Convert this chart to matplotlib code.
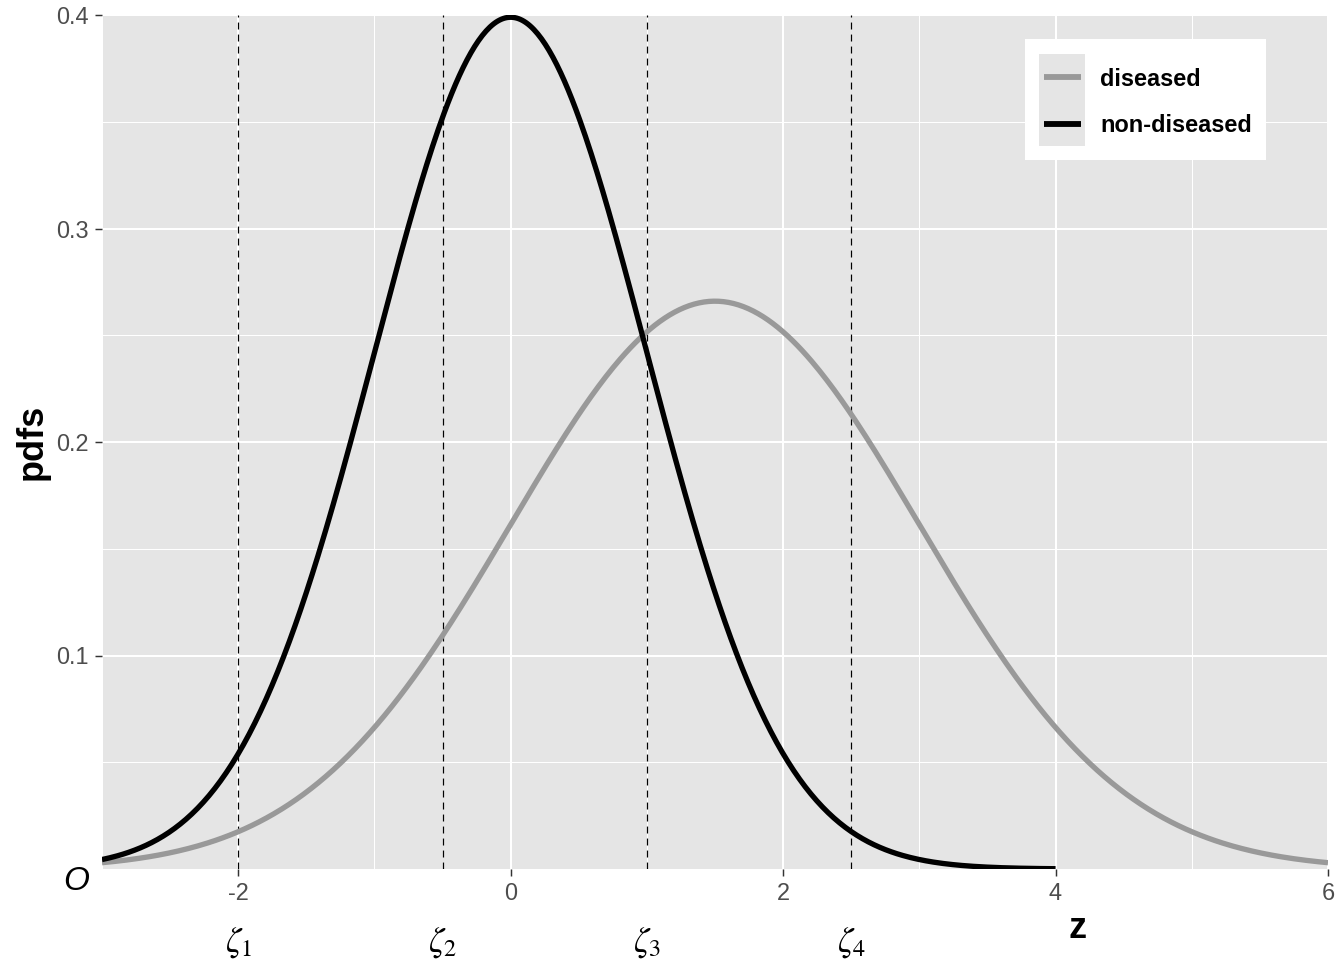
import numpy as np
import matplotlib
matplotlib.use("Agg")
import matplotlib.pyplot as plt
from matplotlib.patches import Rectangle
from matplotlib.lines import Line2D

# --- data ---
groups = ["diseased", "non-diseased"]
means = [1.5, 0.0]
sds = [1.5, 1.0]
z_starts = [-3, -3]
z_ends = [6, 4]
line_colors = ["#999999", "#000000"]

cutoffs = [-2, -0.5, 1, 2.5]
cutoff_labels = [r"$\zeta_1$", r"$\zeta_2$", r"$\zeta_3$", r"$\zeta_4$"]

x_ticks = [-2, 0, 2, 4, 6]
x_minor = [-3, -1, 1, 3, 5]
y_ticks = [0.1, 0.2, 0.3, 0.4]
y_minor = [0.05, 0.15, 0.25, 0.35]

# --- style ---
plt.rcParams["font.family"] = ["Liberation Sans", "DejaVu Sans"]
plt.rcParams["mathtext.fontset"] = "stix"
plt.rcParams["lines.scale_dashes"] = False

W, H = 1344, 960


def fx(px):
    return px / W


def fy(py):
    return 1 - py / H


fig = plt.figure(figsize=(7, 5), dpi=192)
ax = fig.add_axes([fx(102), fy(869), (1328 - 102) / W, (869 - 15) / H])
ax.set_facecolor("#E5E5E5")
for s in ax.spines.values():
    s.set_visible(False)

ax.set_xlim(-3, 6)
ax.set_ylim(0, 0.4)
ax.set_xticks(x_ticks)
ax.set_xticklabels([str(t) for t in x_ticks])
ax.set_yticks(y_ticks)
ax.set_yticklabels([str(t) for t in y_ticks])
ax.set_xticks(x_minor, minor=True)
ax.set_yticks(y_minor, minor=True)
ax.tick_params(which="major", length=2.75, width=0.55, color="#333333",
               labelcolor="#4D4D4D", labelsize=8.8, pad=2.2)
ax.tick_params(which="minor", length=0)
ax.grid(which="major", color="white", lw=0.75)
ax.grid(which="minor", color="white", lw=0.38)
ax.set_axisbelow(True)

# cut-off lines
for c in cutoffs:
    ax.axvline(c, color="black", lw=0.45, dashes=(2.6, 1.9), zorder=2)

# density curves
for g, m, s, a, b, col in zip(groups, means, sds, z_starts, z_ends, line_colors):
    z = np.linspace(a, b, 500)
    pdf = np.exp(-0.5 * ((z - m) / s) ** 2) / (s * np.sqrt(2 * np.pi))
    ax.plot(z, pdf, color=col, lw=2.0, zorder=3, solid_capstyle="butt")

# cut-off labels under the axis
for c, lab in zip(cutoffs, cutoff_labels):
    ax.annotate(lab, xy=(c, 0), xycoords=("data", "axes fraction"),
                xytext=(0, -27.8), textcoords="offset points",
                ha="center", va="center", fontsize=13, color="black")

# axis titles and origin
fig.text(fx(1078), fy(928), "z", ha="center", va="center",
         fontsize=13.5, fontweight="bold")
fig.text(fx(32), fy(442), "pdfs", ha="center", va="center", rotation=90,
         fontsize=13.5, fontweight="bold")
fig.text(fx(76), fy(882), "O", ha="center", va="center",
         fontsize=12.5, style="italic")

# legend (drawn by hand to get the grey key background)
fig.add_artist(Rectangle((fx(1025), fy(160)), fx(1266) - fx(1025), fy(39) - fy(160),
                         transform=fig.transFigure, facecolor="white",
                         edgecolor="none", zorder=5))
fig.add_artist(Rectangle((fx(1039), fy(146)), fx(1085) - fx(1039), fy(54) - fy(146),
                         transform=fig.transFigure, facecolor="#E5E5E5",
                         edgecolor="none", zorder=6))
for i, (g, col) in enumerate(zip(groups, line_colors)):
    yy = 77 + i * 46.5
    fig.add_artist(Line2D([fx(1044), fx(1081)], [fy(yy), fy(yy)],
                          transform=fig.transFigure, color=col, lw=2.2,
                          solid_capstyle="butt", zorder=7))
    fig.text(fx(1100), fy(yy + 2), g, ha="left", va="center", fontsize=8.8,
             fontweight="bold", zorder=7)

fig.savefig("out.png", dpi=192)
